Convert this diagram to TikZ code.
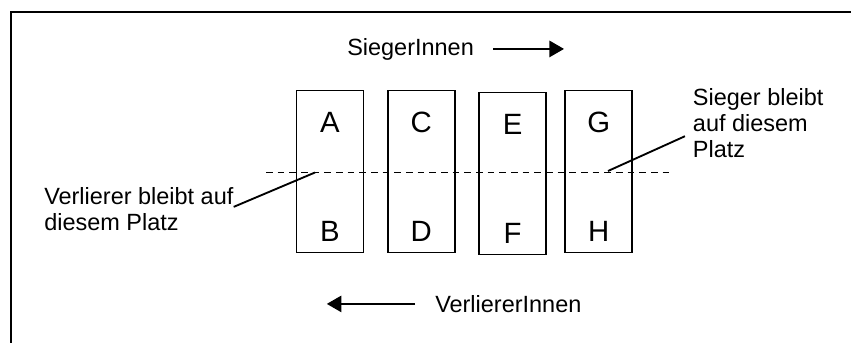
\documentclass[tikz,border=0pt]{standalone}
\usepackage{fontspec}
\setmainfont{Liberation Sans}
\usetikzlibrary{arrows.meta}
\usetikzlibrary{positioning}

\begin{document}
\begin{tikzpicture}[
		x=0.75pt, y=-0.75pt,
		>={Triangle[length=11pt,width=12pt]},
		node distance=68.5pt,
		box node/.style={rectangle,draw,line width=1.4pt,inner sep=0pt,outer sep=0pt,minimum width=50.25pt,minimum height=121.5pt},
		letter node/.style={inner sep=0pt,font=\fontsize{22}{26}\selectfont},
		text node/.style={inner sep=0pt,align=left,font=\fontsize{17.6}{19.5}\selectfont},
		arrow line/.style={->,line width=2.1pt},
		thin line/.style={line width=1.4pt}]

	\useasboundingbox (0,0) rectangle (851,343);
	\draw[line width=1.3pt] (11,343) |- (851,12);

	\node[box node] (ab) at (330,171.5) {};
	\node[box node] (cd) [right of=ab] {};
	\node[box node] (ef) [right of=cd, yshift=-1.5pt] {};
	\node[box node] (gh) [right of=ef, node distance=64.5pt, yshift=1.5pt] {};

	\node[letter node, below=16.1pt of ab.north] (a) {A};
	\node[letter node, above=8.1pt of ab.south] (b) {B};
	\node[letter node, below=16.1pt of cd.north] (c) {C};
	\node[letter node, above=8.1pt of cd.south] (d) {D};
	\node[letter node, below=16.1pt of ef.north] (e) {E};
	\node[letter node, above=8.1pt of ef.south] (f) {F};
	\node[letter node, below=16.1pt of gh.north] (g) {G};
	\node[letter node, above=8.1pt of gh.south] (h) {H};

	% Trennlinie
	\coordinate (dl) at (266,172.5);
	\coordinate (dr) at (672,172.5);
	\draw[thin line, dash pattern=on 5pt off 3.75pt] (dl) -- (dr);

	\node[text node, anchor=north west] (vnote) at (44,187) {Verlierer bleibt auf\\diesem Platz};
	\node[text node, anchor=north west] (snote) at (692.7,88) {Sieger bleibt\\auf diesem\\Platz};
	\coordinate (lose) at (315,172.5);
	\coordinate (win) at (608,171);
	\draw[thin line] ([yshift=1.5pt]vnote.east) -- (lose);
	\draw[thin line] (win) -- ([shift={(-5.8pt,-10pt)}]snote.west);

	\node[text node, anchor=base west] (sieger) at (347,55) {SiegerInnen};
	\coordinate[right=14.25pt of sieger] (s1);
	\coordinate[right=53.25pt of s1] (s2);
	\draw[arrow line] (s1) -- (s2);

	\node[text node, anchor=base west] (verlierer) at (435,312.3) {VerliererInnen};
	\coordinate[left=15pt of verlierer] (v1);
	\coordinate[left=66.2pt of v1] (v2);
	\draw[arrow line] (v1) -- (v2);
\end{tikzpicture}
\end{document}
